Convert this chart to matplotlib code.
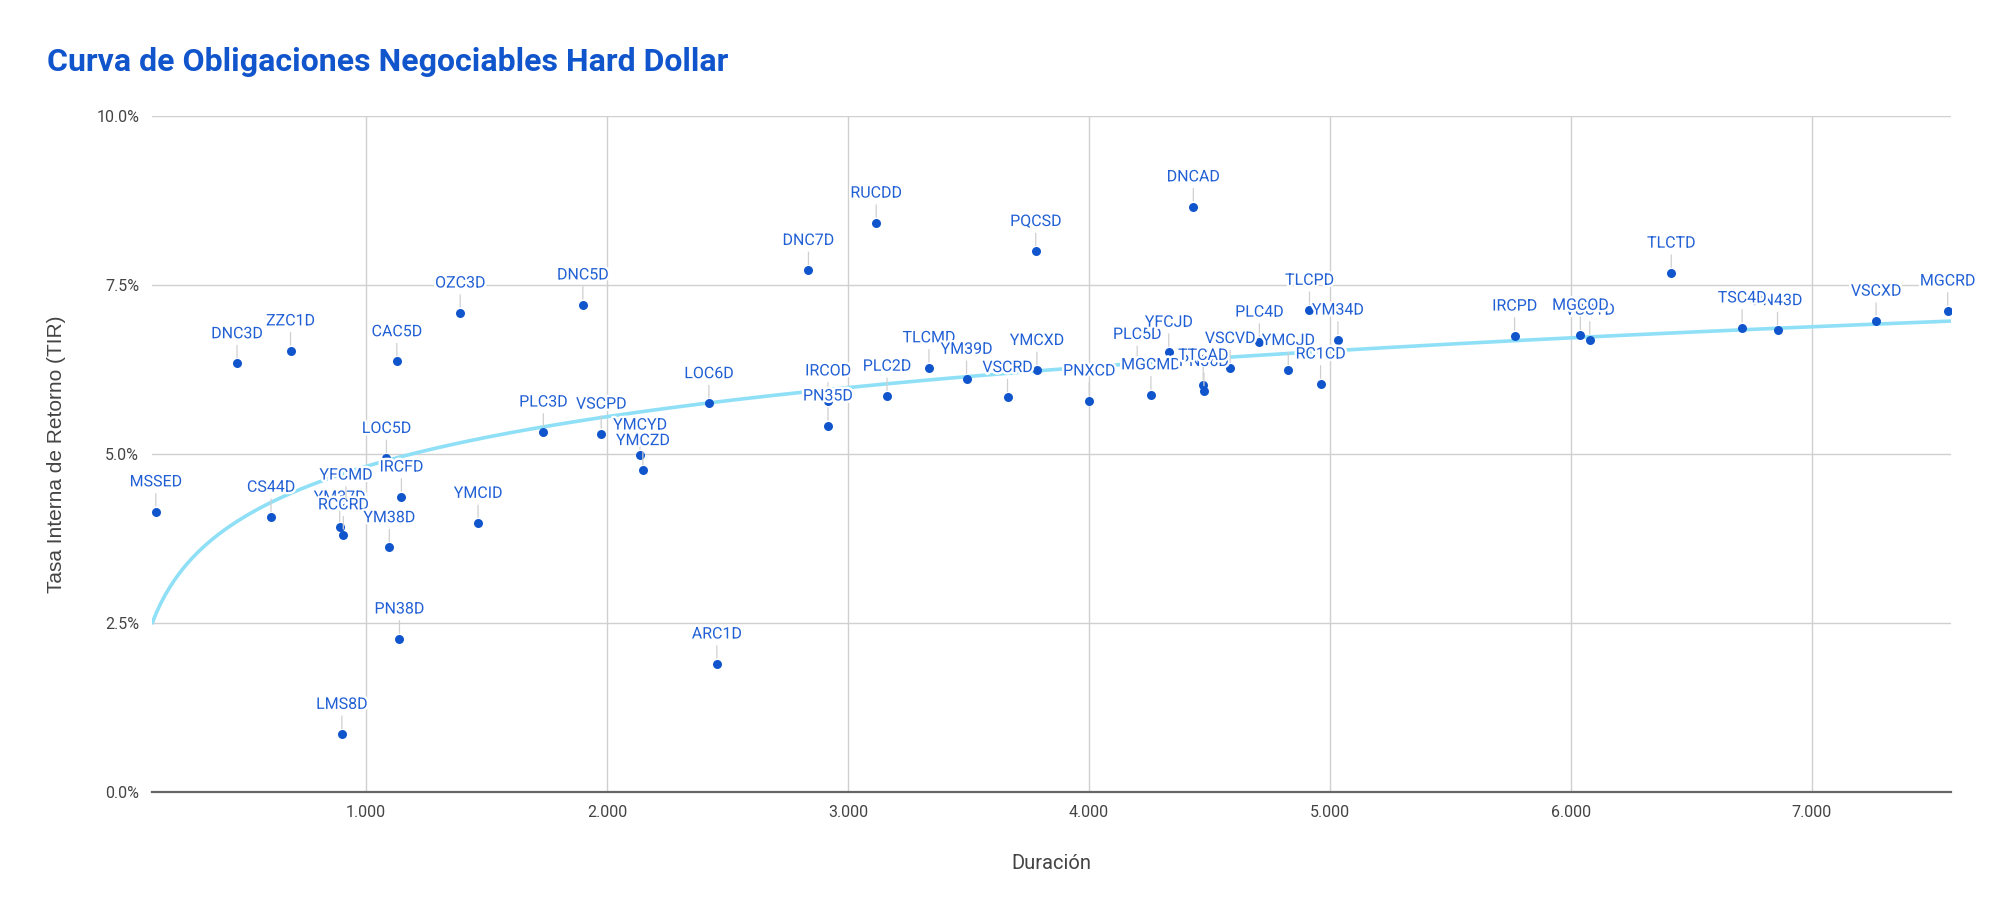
import numpy as np
import matplotlib

matplotlib.use("Agg")
import matplotlib.pyplot as plt
import matplotlib.patheffects as pe
from matplotlib.ticker import FuncFormatter, FixedLocator

# bond tickers, duration and yield (TIR, %)
names = [
    "MSSED", "DNC3D", "ZZC1D", "CS44D", "YM37D", "RCCRD", "YFCMD", "LMS8D",
    "LOC5D", "IRCFD", "YM38D", "CAC5D", "PN38D", "OZC3D", "YMCID", "PLC3D",
    "DNC5D", "VSCPD", "YMCYD", "YMCZD", "LOC6D", "ARC1D", "DNC7D", "IRCOD",
    "PN35D", "RUCDD", "PLC2D", "TLCMD", "YM39D", "VSCRD", "PQCSD", "YMCXD",
    "PNXCD", "PLC5D", "MGCMD", "YFCJD", "DNCAD", "PN36D", "TTCAD", "VSCVD",
    "PLC4D", "YMCJD", "TLCPD", "RC1CD", "YM34D", "IRCPD", "VSCTD", "MGCOD",
    "TLCTD", "PN43D", "TSC4D", "VSCXD", "MGCRD",
]
duracion = [
    0.128, 0.465, 0.687, 0.606, 0.891, 0.906, 0.917, 0.900,
    1.085, 1.147, 1.097, 1.128, 1.139, 1.391, 1.465, 1.736,
    1.900, 1.976, 2.137, 2.149, 2.423, 2.456, 2.836, 2.917,
    2.917, 3.117, 3.162, 3.336, 3.492, 3.662, 3.779, 3.784,
    4.001, 4.200, 4.257, 4.331, 4.433, 4.477, 4.474, 4.586,
    4.707, 4.827, 4.915, 4.961, 5.033, 5.766, 6.078, 6.039,
    6.416, 6.857, 6.710, 7.266, 7.563,
]
tir = [
    4.15, 6.34, 6.53, 4.07, 3.92, 3.81, 4.25, 0.86,
    4.94, 4.37, 3.62, 6.37, 2.27, 7.09, 3.98, 5.33,
    7.21, 5.30, 4.99, 4.76, 5.75, 1.90, 7.72, 5.79,
    5.42, 8.42, 5.86, 6.28, 6.11, 5.84, 8.00, 6.24,
    5.79, 6.33, 5.88, 6.51, 8.66, 5.93, 6.02, 6.27,
    6.66, 6.24, 7.13, 6.04, 6.69, 6.75, 6.69, 6.76,
    7.68, 6.83, 6.87, 6.97, 7.12,
]
x_ticks = [1, 2, 3, 4, 5, 6, 7]
y_ticks = [0, 2.5, 5, 7.5, 10]

point_c = "#1155cc"
label_c = "#2160d4"
trend_c = "#8fe0f7"
grid_c = "#d0d0d0"
text_c = "#444444"

fig = plt.figure(figsize=(19.99, 9.16), dpi=100)
ax = fig.add_axes([0.0759, 0.1351, 0.9001, 0.7383])

x = np.array(duracion)
y = np.array(tir)
xmin, xmax = 0.111, 7.577

# logarithmic trendline
b, a = np.polyfit(np.log(x), y, 1)
xs = np.linspace(xmin, xmax, 400)
ax.plot(xs, a + b * np.log(xs), color=trend_c, lw=2.6, zorder=2, solid_capstyle="butt")

ax.scatter(x, y, s=42, color=point_c, zorder=3, linewidths=0)

halo = [pe.withStroke(linewidth=3.5, foreground="white")]
for i, n in enumerate(names):
    ax.annotate(
        n,
        (x[i], y[i]),
        xytext=(0, 16),
        textcoords="offset points",
        ha="center",
        va="bottom",
        fontsize=11.5,
        family="Roboto",
        color=label_c,
        zorder=4 + i * 0.001,
        path_effects=halo,
        arrowprops=dict(arrowstyle="-", color="#cfcfcf", lw=0.9, shrinkA=1, shrinkB=4),
    )

ax.set_xlim(xmin, xmax)
ax.set_ylim(0, 10)
ax.xaxis.set_major_locator(FixedLocator(x_ticks))
ax.yaxis.set_major_locator(FixedLocator(y_ticks))
ax.xaxis.set_major_formatter(FuncFormatter(lambda v, p: f"{v:.3f}"))
ax.yaxis.set_major_formatter(FuncFormatter(lambda v, p: f"{v:.1f}%"))
ax.grid(True, color=grid_c, lw=1.0, zorder=0)
ax.set_axisbelow(True)
for s in ["top", "right", "left"]:
    ax.spines[s].set_visible(False)
ax.spines["bottom"].set_color("#666666")
ax.spines["bottom"].set_linewidth(1.6)
ax.spines["bottom"].set_zorder(1)
ax.tick_params(length=0, labelsize=11.5, labelcolor=text_c, pad=9)
for lab in ax.get_xticklabels() + ax.get_yticklabels():
    lab.set_family("Roboto")

ax.set_xlabel("Duración", family="Roboto", fontsize=14.5, color=text_c, labelpad=25)
ax.set_ylabel("Tasa Interna de Retorno (TIR)", family="Liberation Sans", fontsize=15,
              color=text_c, labelpad=22)

fig.text(0.0235, 0.922, "Curva de Obligaciones Negociables Hard Dollar", family="Roboto",
         fontweight="bold", fontsize=23, color="#1155cc", ha="left", va="baseline")

fig.savefig("out.png", dpi=100, facecolor="white")
